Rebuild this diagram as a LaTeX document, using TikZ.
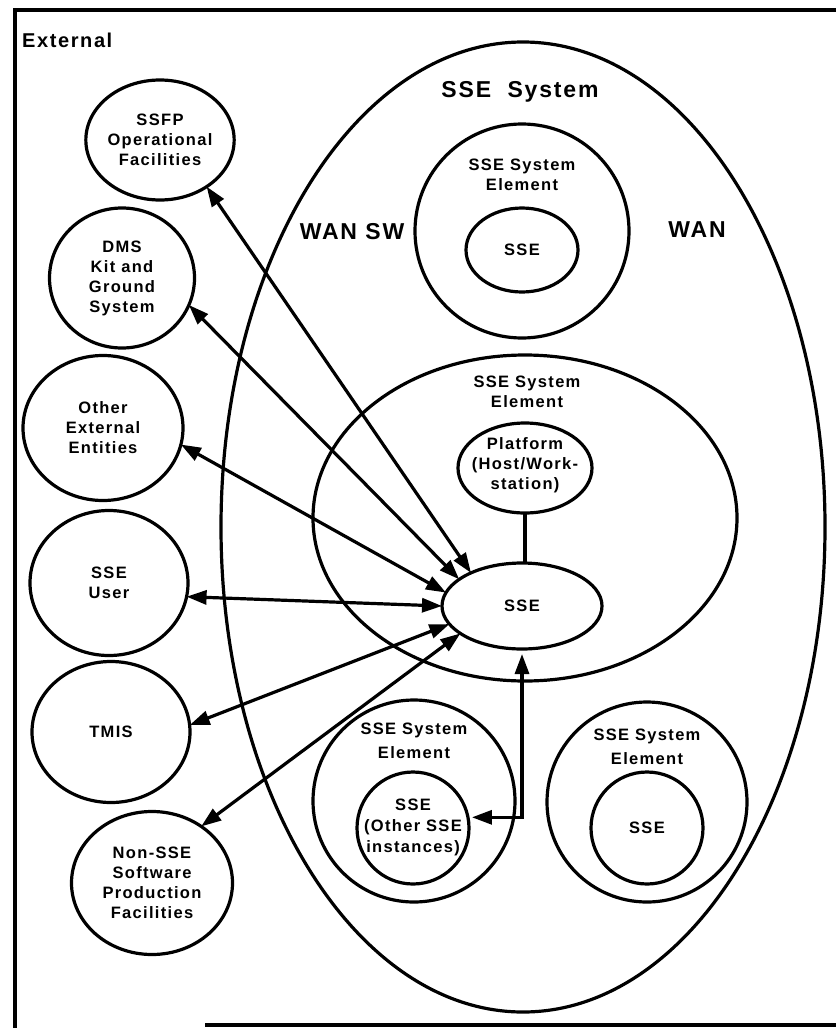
\documentclass[tikz,border=0pt]{standalone}
\usepackage{fontspec}
\setmainfont{Liberation Sans}[LetterSpace=8]
\usetikzlibrary{shapes.geometric,arrows.meta,calc}
\begin{document}
\begin{tikzpicture}[x=1pt,y=-1pt,
  ln/.style={line width=3.2pt},
  ell/.style={ellipse, draw, line width=3.2pt, inner sep=0pt, outer sep=0pt},
  small/.style={font=\bfseries\fontsize{16.5}{20}\selectfont, align=center, inner sep=0pt},
  big/.style={font=\bfseries\fontsize{23}{26}\selectfont, inner sep=0pt},
  arr/.style={line width=3.2pt, {Triangle[length=20pt,width=14pt]}-{Triangle[length=20pt,width=14pt]}}
]
\useasboundingbox (0,0) rectangle (836,1028);
% frame
\coordinate (ftr) at (836,10);
\coordinate (ftl) at (15,10);
\coordinate (fbl) at (15,1028);
\coordinate (fb1) at (205,1025);
\coordinate (fb2) at (836,1025);
\draw[ln] (ftr) -- (ftl) -- (fbl);
\draw[ln] (fb1) -- (fb2);

% titles
\node[big, font=\bfseries\fontsize{20}{22}\selectfont, anchor=west] (ext) at (22,40) {External};
\node[big] (systitle) at (520,92) {SSE\ \ System};
\node[big] (wansw) at (352,232) {WAN SW};
\node[big] (wan) at (697,230) {WAN};

% SSE system
\node[ell, minimum width=604pt, minimum height=970pt] (sys) at (523,527) {};

% top element
\node[ell, minimum size=214pt] (topel) at (522,231) {};
\node[small] (toptxt) at (522,175) {SSE System\\Element};
\node[ell, small, minimum width=112pt, minimum height=84pt] (topsse) at (522,250) {SSE};

% middle element
\node[ell, minimum width=424pt, minimum height=326pt] (midel) at (525,518) {};
\node[small] (midtxt) at (527,392) {SSE System\\Element};
\node[ell, minimum width=134pt, minimum height=90pt] (plat) at (525,468) {};
\node[small] (plattxt) at (525,465) {Platform\\(Host/Work-\\station)};
\node[ell, small, minimum width=160pt, minimum height=86pt] (sse) at (522,606) {SSE};
\draw[ln] (plat.south) -- (plat.south |- sse.north);

% lower left element
\node[ell, minimum size=202pt] (llel) at (414,801) {};
\node[small, font=\bfseries\fontsize{16.5}{24}\selectfont] (lltxt) at (414,741) {SSE System\\Element};
\node[ell, minimum size=112pt] (oss) at (413,828) {};
\node[small, font=\bfseries\fontsize{16.5}{21}\selectfont] (osstxt) at (413,827) {SSE\\(Other SSE\\instances)};

% lower right element
\node[ell, minimum size=200pt] (lrel) at (647,802) {};
\node[small, font=\bfseries\fontsize{16.5}{24}\selectfont] (lrtxt) at (647,747) {SSE System\\Element};
\node[ell, small, minimum size=112pt] (lrsse) at (647,828) {SSE};

% external entities
\node[ell, small, minimum width=134pt, minimum height=120pt] (ssfp) at (160,140) {SSFP\\Operational\\Facilities};
\node[ell, small, minimum width=145pt, minimum height=140pt] (dms) at (122,278) {DMS\\Kit and\\Ground\\System};
\node[ell, small, minimum width=160pt, minimum height=145pt] (other) at (103,428) {Other\\External\\Entities};
\node[ell, small, minimum width=158pt, minimum height=145pt] (user) at (109,583) {SSE\\User};
\node[ell, small, minimum width=158pt, minimum height=141pt] (tmis) at (111,732) {TMIS};
\node[ell, small, minimum width=161pt, minimum height=143pt] (nonsse) at (152,883) {Non-SSE\\Software\\Production\\Facilities};

% connectors
\draw[arr] (ssfp.-45) -- (sse.147.6);
\draw[arr] (dms.-22) -- (sse.157);
\draw[arr] (other.-12) -- (sse.170);
\draw[arr] (user.-10) -- (sse.180);
\draw[arr] (tmis.5) -- (sse.194);
\draw[arr] (nonsse.49) -- (sse.204);
\draw[arr, shorten >=5pt, shorten <=4pt] (oss.11) -| (sse.south);
\end{tikzpicture}
\end{document}
